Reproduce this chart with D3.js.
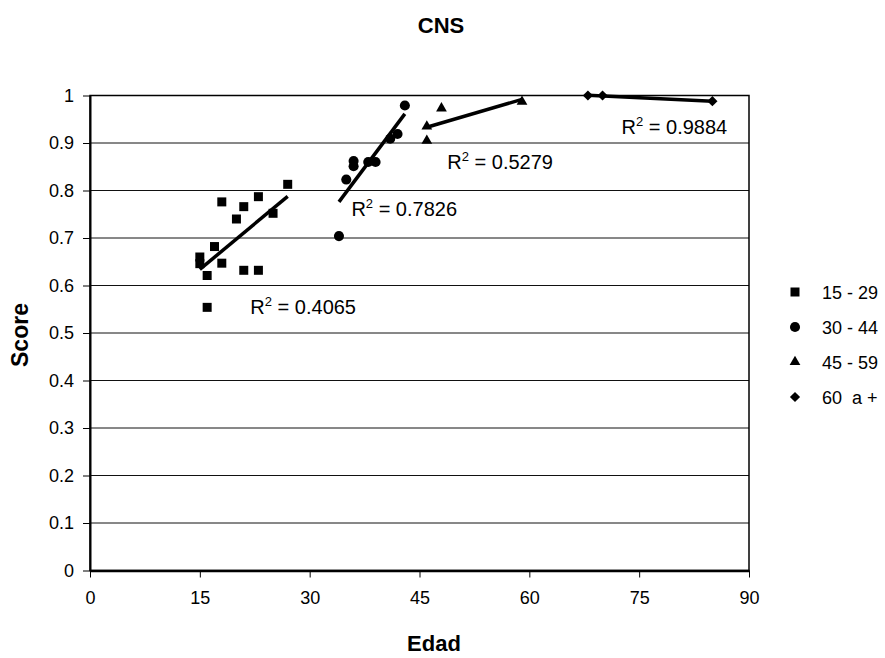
<!DOCTYPE html>
<html>
<head>
<meta charset="utf-8">
<script src="https://cdn.jsdelivr.net/npm/d3@7"></script>
<style>
  html, body { margin: 0; padding: 0; background: #fff; }
  svg { display: block; font-family: "Liberation Sans", Arial, Helvetica, sans-serif; }
  text { white-space: pre; }
</style>
</head>
<body>
<svg id="chart" width="885" height="658"></svg>
<script>
// Age groups and their (edad, score) observations
const groupNames = ["15 - 29", "30 - 44", "45 - 59", "60  a +"];

const edad1529  = [15, 15, 16, 16, 17, 18, 18, 20, 21, 21, 23, 23, 25, 27];
const score1529 = [0.660, 0.646, 0.621, 0.554, 0.682, 0.776, 0.647, 0.740, 0.766, 0.632, 0.787, 0.632, 0.752, 0.813];

const edad3044  = [34, 35, 36, 36, 38, 39, 41, 42, 43];
const score3044 = [0.704, 0.823, 0.862, 0.851, 0.860, 0.860, 0.909, 0.919, 0.979];

const edad4559  = [46, 46, 48, 59];
const score4559 = [0.935, 0.905, 0.973, 0.987];

const edad60    = [68, 70, 85];
const score60   = [1.000, 1.000, 0.988];

// Coefficients of determination printed next to each trend line
const r2Labels = ["0.4065", "0.7826", "0.5279", "0.9884"];

const xTicks = [0, 15, 30, 45, 60, 75, 90];
const yTicks = [0, 0.1, 0.2, 0.3, 0.4, 0.5, 0.6, 0.7, 0.8, 0.9, 1];

const series = [
  { name: groupNames[0], xs: edad1529, ys: score1529, shape: "square",   r2: r2Labels[0] },
  { name: groupNames[1], xs: edad3044, ys: score3044, shape: "circle",   r2: r2Labels[1] },
  { name: groupNames[2], xs: edad4559, ys: score4559, shape: "triangle", r2: r2Labels[2] },
  { name: groupNames[3], xs: edad60,   ys: score60,   shape: "diamond",  r2: r2Labels[3] }
];

// where each R² note sits, in data units (left edge, baseline)
const r2Anchor = [[21.9, 0.540], [35.7, 0.747], [48.8, 0.846], [72.6, 0.920]];

const svg = d3.select("#chart");
const plotL = 90, plotR = 749, plotT = 95.5, plotB = 570.5;

const x = d3.scaleLinear().domain([0, 90]).range([plotL, plotR]);
const y = d3.scaleLinear().domain([0, 1]).range([plotB, plotT]);

// title
svg.append("text").attr("x", 441).attr("y", 33).attr("text-anchor", "middle")
  .attr("font-size", 22).attr("font-weight", "bold").text("CNS");

// horizontal gridlines
svg.append("g").selectAll("line").data(yTicks.slice(1, -1)).join("line")
  .attr("x1", plotL).attr("x2", plotR)
  .attr("y1", d => y(d)).attr("y2", d => y(d))
  .attr("stroke", "#111").attr("stroke-width", 1);

// plot frame
svg.append("rect").attr("x", plotL).attr("y", plotT).attr("width", plotR - plotL).attr("height", plotB - plotT)
  .attr("fill", "none").attr("stroke", "#000").attr("stroke-width", 1.5);

// y axis
const yAxis = svg.append("g").attr("transform", `translate(${plotL},0)`)
  .call(d3.axisLeft(y).tickValues(yTicks).tickFormat(d3.format("")).tickSizeInner(7).tickSizeOuter(0).tickPadding(9));
yAxis.select(".domain").attr("stroke", "#000").attr("stroke-width", 2);
yAxis.selectAll("text").attr("font-size", 18).attr("fill", "#000");
yAxis.attr("font-family", null);

// x axis
const xAxis = svg.append("g").attr("transform", `translate(0,${plotB})`)
  .call(d3.axisBottom(x).tickValues(xTicks).tickSizeInner(7).tickSizeOuter(0).tickPadding(14));
xAxis.select(".domain").attr("stroke", "#000").attr("stroke-width", 2.5);
xAxis.selectAll("text").attr("font-size", 18).attr("fill", "#000");
xAxis.attr("font-family", null);

// axis titles
svg.append("text").attr("x", 434).attr("y", 651).attr("text-anchor", "middle")
  .attr("font-size", 22).attr("font-weight", "bold").text("Edad");
svg.append("text").attr("transform", "translate(28,335) rotate(-90)").attr("text-anchor", "middle")
  .attr("font-size", 23).attr("font-weight", "bold").text("Score");

// marker shapes
function markerPath(shape) {
  if (shape === "square")   return d3.symbol(d3.symbolSquare, 81)();
  if (shape === "circle")   return d3.symbol(d3.symbolCircle, 80)();
  if (shape === "triangle") return d3.symbol(d3.symbolTriangle, 50)();
  return d3.symbol(d3.symbolSquare, 52)();
}
function markerTransform(shape, px, py) {
  return shape === "diamond" ? `translate(${px},${py}) rotate(45)` : `translate(${px},${py})`;
}

// least-squares trend line over each group's own age range
function fit(xs, ys) {
  const mx = d3.mean(xs), my = d3.mean(ys);
  let sxy = 0, sxx = 0;
  xs.forEach((v, i) => { sxy += (v - mx) * (ys[i] - my); sxx += (v - mx) * (v - mx); });
  const b = sxy / sxx, a = my - b * mx;
  return v => a + b * v;
}

const plot = svg.append("g");
series.forEach((s, k) => {
  const f = fit(s.xs, s.ys);
  const x0 = d3.min(s.xs), x1 = d3.max(s.xs);

  plot.append("g").selectAll("path").data(s.xs.map((v, i) => [v, s.ys[i]])).join("path")
    .attr("d", markerPath(s.shape))
    .attr("transform", d => markerTransform(s.shape, x(d[0]), y(d[1])))
    .attr("fill", "#000");

  plot.append("line")
    .attr("x1", x(x0)).attr("y1", y(f(x0)))
    .attr("x2", x(x1)).attr("y2", y(f(x1)))
    .attr("stroke", "#000").attr("stroke-width", 3.5);

  const t = svg.append("text")
    .attr("x", x(r2Anchor[k][0])).attr("y", y(r2Anchor[k][1]))
    .attr("font-size", 20).attr("fill", "#000");
  t.append("tspan").text("R");
  t.append("tspan").attr("font-size", 13).attr("dy", -8).text("2");
  t.append("tspan").attr("dy", 8).text(" = " + s.r2);
});

// legend
const legend = svg.append("g");
series.forEach((s, k) => {
  const ly = 292 + k * 35;
  legend.append("path").attr("d", markerPath(s.shape))
    .attr("transform", markerTransform(s.shape, 795, ly)).attr("fill", "#000");
  legend.append("text").attr("x", 822).attr("y", ly + 6.5)
    .attr("font-size", 18).attr("fill", "#000").text(s.name);
});
</script>
</body>
</html>
